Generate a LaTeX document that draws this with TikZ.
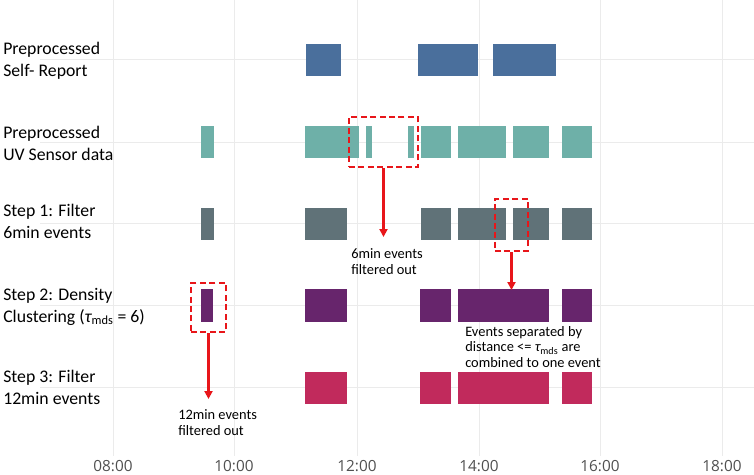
\documentclass[tikz,border=0pt]{standalone}
\usepackage{fontspec}
\setmainfont{Carlito}
\newfontfamily\axisfont{Open Sans}
\usetikzlibrary{arrows.meta,fit}
\definecolor{srblue}{HTML}{4A6F9C}
\definecolor{uvteal}{HTML}{6EB0A8}
\definecolor{stepgray}{HTML}{607278}
\definecolor{steppurple}{HTML}{67256C}
\definecolor{stepred}{HTML}{C12A5C}
\definecolor{annot}{HTML}{E8161A}
\definecolor{gridc}{HTML}{EBEBEB}
\definecolor{axisc}{HTML}{505050}
\newcommand{\taumds}{{\itshape τ}\textsubscript{mds}}
\begin{document}
\begin{tikzpicture}[x=0.75pt,y=-0.75pt,
  gridline/.style={draw=gridc,line width=0.75pt},
  axislabel/.style={font=\axisfont\fontsize{11.5}{13}\selectfont,text=axisc,inner sep=0pt,anchor=base},
  rowlabel/.style={font=\fontsize{13.3}{16.1}\selectfont,align=left,anchor=base west,inner sep=0pt,text=black},
  note/.style={font=\fontsize{10.8}{11.3}\selectfont,align=left,anchor=base west,inner sep=0pt,text=black},
  redbox/.style={draw=annot,line width=2pt,dash pattern=on 4.5pt off 2.6pt,inner sep=0pt},
  redarrow/.style={draw=annot,line width=1.6pt,-{Triangle[width=6pt,length=6pt]}}
]
\useasboundingbox (0,0) rectangle (754,475);
\fill[white] (0,0) rectangle (754,475);
% grid
\foreach \x in {113,234,357,479,600,722} \draw[gridline] (\x,0) -- (\x,456);
\foreach \y in {59,142,223,305,387} \draw[gridline] (40,\y) -- (754,\y);
% axis labels
\foreach \x/\t [count=\i] in {113/08:00,234/10:00,357/12:00,479/14:00,600/16:00,722/18:00}
  \node[axislabel] (tick\i) at (\x,471) {\t};
% bars
\foreach \a/\b in {306/341,418/478,493/556}
  \fill[srblue] (\a,44) rectangle (\b,76);
\foreach \a/\b in {201/214,305/359,366/372,408/414,421/451,458/506,513/549,562/592}
  \fill[uvteal] (\a,126) rectangle (\b,158);
\foreach \a/\b in {201/214,305/347,421/451,458/506,513/549,562/592}
  \fill[stepgray] (\a,208) rectangle (\b,240);
\foreach \a/\b in {201/213,305/347,420/451,458/549,562/592}
  \fill[steppurple] (\a,289) rectangle (\b,322);
\foreach \a/\b in {305/347,420/451,458/549,562/592}
  \fill[stepred] (\a,372) rectangle (\b,404);
% row labels (anchor = baseline of last line)
\node[rowlabel] (lab1) at (3,76) {Preprocessed\\Self- Report};
\node[rowlabel] (lab2) at (3,160) {Preprocessed\\UV Sensor data};
\node[rowlabel] (lab3) at (3,238) {Step 1: Filter\\6min events};
\node[rowlabel] (lab4) at (3,322) {Step 2: Density\\Clustering (\taumds{} = 6)};
\node[rowlabel] (lab5) at (3,404) {Step 3: Filter\\12min events};
% annotation boxes
\node[redbox,fit={(349,117) (418,167)}] (box1) {};
\node[redbox,fit={(495,199) (528,251)}] (box2) {};
\node[redbox,fit={(191,283) (226,332)}] (box3) {};
\coordinate (end1) at (383.5,237);
\coordinate (end2) at (511.5,290);
\coordinate (end3) at (208.5,399);
\draw[redarrow] (box1.south) -- (end1);
\draw[redarrow] (box2.south) -- (end2);
\draw[redarrow] (box3.south) -- (end3);
% notes
\node[note] (note1) at (351,274) {6min events\\filtered out};
\node[note] (note2) at (465,367) {Events separated by\\distance <= \taumds{} are\\combined to one event};
\node[note] (note3) at (178,435) {12min events\\filtered out};
\end{tikzpicture}
\end{document}
